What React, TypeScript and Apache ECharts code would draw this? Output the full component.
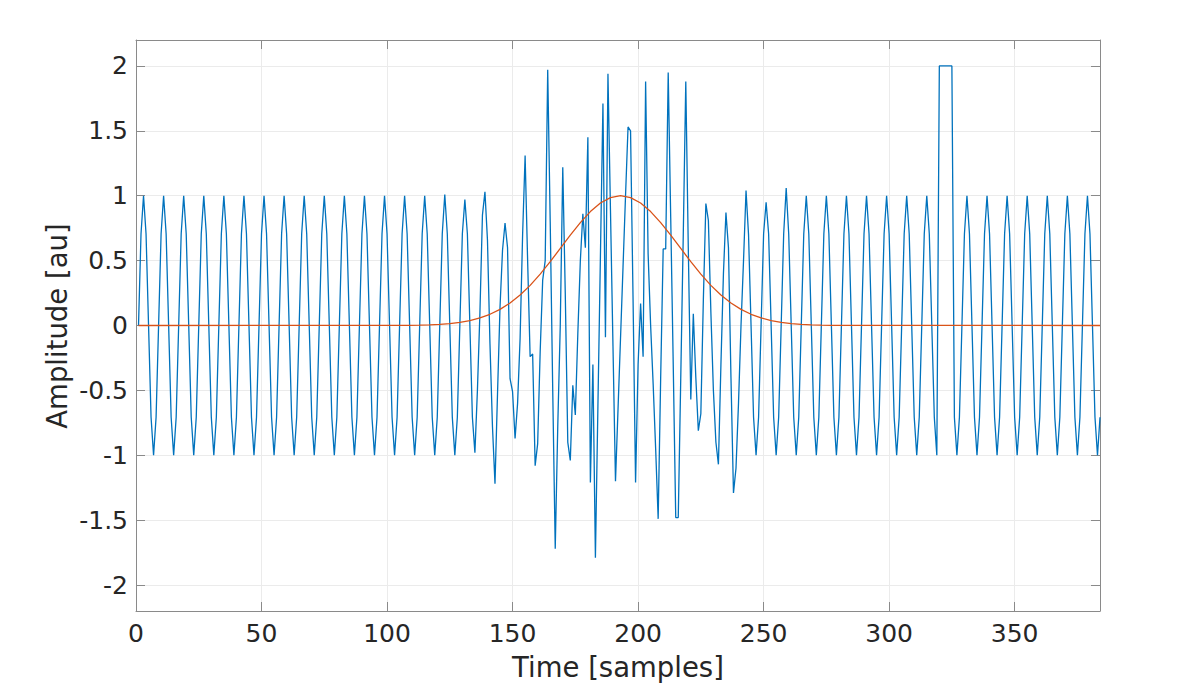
import React, { useEffect, useRef } from "react";
import * as echarts from "echarts";

// Sample index of the first value in `amplitude` (samples are 1..384)
const firstSample = 1;

// Blue signal, one row = 8 samples (one period of the carrier)
const amplitude: number[] = [
  0, 0.707, 1, 0.707, 0, -0.707, -1, -0.707,
  0, 0.707, 1, 0.707, 0, -0.707, -1, -0.707,
  0, 0.707, 1, 0.707, 0, -0.707, -1, -0.707,
  0, 0.707, 1, 0.707, 0, -0.707, -1, -0.707,
  0, 0.707, 1, 0.707, 0, -0.707, -1, -0.707,
  0, 0.707, 1, 0.707, 0, -0.707, -1, -0.707,
  0, 0.707, 1, 0.707, 0, -0.707, -1, -0.707,
  0, 0.707, 1, 0.707, 0, -0.707, -1, -0.707,
  0, 0.707, 1, 0.707, 0, -0.707, -1, -0.707,
  0, 0.707, 1, 0.707, 0, -0.707, -1, -0.707,
  0, 0.707, 1, 0.707, 0, -0.707, -1, -0.707,
  0, 0.707, 1, 0.707, 0, -0.707, -1, -0.707,
  0, 0.707, 1, 0.707, 0, -0.707, -1, -0.707,
  0, 0.707, 1, 0.707, 0, -0.707, -1, -0.707,
  0, 0.707, 1, 0.707, 0, -0.707, -1, -0.707,
  0, 0.707, 1.01, 0.707, 0, -0.707, -1, -0.707,
  0, 0.707, 0.97, 0.707, 0, -0.707, -0.98, -0.5,
  0.1, 0.85, 1.03, 0.66, -0.14, -0.78, -1.22, -0.53,
  0.14, 0.58, 0.79, 0.6, -0.41, -0.51, -0.87, -0.6,
  -0.1, 0.7, 1.31, 0.5, -0.24, -0.22, -1.08, -0.91,
  -0.2, 0.35, 0.5, 1.97, 0.8, -0.5, -1.72, -0.78,
  0, 1.22, 0.24, -0.9, -1.04, -0.46, -0.69, -0.06,
  0.5, 0.86, 0.6, 1.45, -1.21, -0.3, -1.79, -0.62,
  0.54, 1.71, -0.09, 1.94, 0.89, -0.16, -1.2, -0.65,
  -0.1, 0.45, 1.0, 1.53, 1.5, 0.2, -1.21, -0.3,
  0.17, -0.24, 1.88, 0.55, 0, -0.45, -0.95, -1.49,
  -0.4, 0.59, 0.59, 1.95, 0.83, -0.3, -1.48, -1.48,
  -0.4, 0.7, 1.88, 0.6, -0.57, 0.09, -0.4, -0.81,
  -0.68, 0.2, 0.94, 0.81, 0.1, -0.5, -0.9, -1.07,
  -0.3, 0.4, 0.87, 0.6, -0.4, -1.29, -1.1, -0.6,
  0, 0.5, 1.04, 0.7, 0, -0.707, -1, -0.707,
  0, 0.707, 0.95, 0.707, 0, -0.707, -1, -0.707,
  0, 0.707, 1.06, 0.707, 0, -0.707, -1, -0.707,
  0, 0.707, 1, 0.707, 0, -0.707, -1, -0.707,
  0, 0.707, 1, 0.707, 0, -0.707, -1, -0.707,
  0, 0.707, 1, 0.707, 0, -0.707, -1, -0.707,
  0, 0.707, 1, 0.707, 0, -0.707, -1, -0.707,
  0, 0.707, 1, 0.707, 0, -0.707, -1, -0.707,
  0, 0.707, 1, 0.707, 0, -0.707, -1, -0.707,
  0, 0.707, 1, 0.707, 0, -0.707, -1, 2,
  2, 2, 2, 2, 2, -0.707, -1, -0.707,
  0, 0.707, 1, 0.707, 0, -0.707, -1, -0.707,
  0, 0.707, 1, 0.707, 0, -0.707, -1, -0.707,
  0, 0.707, 1, 0.707, 0, -0.707, -1, -0.707,
  0, 0.707, 1, 0.707, 0, -0.707, -1, -0.707,
  0, 0.707, 1, 0.707, 0, -0.707, -1, -0.707,
  0, 0.707, 1, 0.707, 0, -0.707, -1, -0.707,
  0, 0.707, 1, 0.707, 0, -0.707, -1, -0.707,
];

// Red window curve: sample positions and values
const windowTime: number[] = [
  1, 109, 113, 117, 121, 125, 129, 133, 137, 141, 145, 149, 153, 157, 161, 165,
  169, 173, 177, 181, 185, 189, 193, 197, 201, 205, 209, 213, 217, 221, 225,
  229, 233, 237, 241, 245, 249, 253, 257, 261, 265, 269, 273, 277, 384,
];
const windowValue: number[] = [
  0, 0.0017, 0.003, 0.0054, 0.0092, 0.0152, 0.0245, 0.0384, 0.0585, 0.0865,
  0.1242, 0.1733, 0.2349, 0.3093, 0.3957, 0.4917, 0.5936, 0.6962, 0.7931,
  0.8778, 0.9437, 0.9856, 1, 0.9856, 0.9437, 0.8778, 0.7931, 0.6962, 0.5936,
  0.4917, 0.3957, 0.3093, 0.2349, 0.1733, 0.1242, 0.0865, 0.0585, 0.0384,
  0.0245, 0.0152, 0.0092, 0.0054, 0.003, 0.0017, 0,
];

const xTitle = "Time [samples]";
const yTitle = "Amplitude [au]";
const xRange = [0, 384];
const yRange = [-2.2, 2.2];
const xStep = 50;
const yStep = 0.5;

const FONT = '"DejaVu Sans", "Liberation Sans", sans-serif';
const TEXT = "#262626";
const AXIS = "#8a8a8a";
const GRID = "#ebebeb";

export default function App() {
  const ref = useRef<HTMLDivElement>(null);

  useEffect(() => {
    if (!ref.current) return;
    const chart = echarts.init(ref.current, undefined, { renderer: "svg" });

    const signal = amplitude.map((v, i) => [i + firstSample, v]);
    const windowData = windowTime.map((t, i) => [t, windowValue[i]]);

    const axisLine = { show: true, onZero: false, lineStyle: { color: AXIS, width: 1 } };
    const axisTick = { show: true, inside: true, length: 9, lineStyle: { color: AXIS, width: 1 } };

    const xFmt = (v: number) => (Math.abs(v % xStep) < 1e-9 ? String(v) : "");
    const yFmt = (v: number) => {
      const k = v / yStep;
      return Math.abs(k - Math.round(k)) < 1e-6 ? String(Number(v.toFixed(1))) : "";
    };

    const xBase = {
      type: "value" as const,
      min: xRange[0],
      max: xRange[1],
      interval: xStep,
      axisLine,
      axisTick,
    };
    const yBase = {
      type: "value" as const,
      min: yRange[0],
      max: yRange[1],
      splitNumber: 9,
      minInterval: yStep,
      maxInterval: yStep,
      axisLine,
      axisTick,
    };

    chart.setOption({
      animation: false,
      backgroundColor: "#ffffff",
      grid: { left: 136, top: 40, width: 964, height: 571, containLabel: false },
      xAxis: [
        {
          ...xBase,
          position: "bottom",
          splitLine: { show: true, lineStyle: { color: GRID, width: 1 } },
          axisLabel: {
            show: true,
            margin: 10,
            color: TEXT,
            fontFamily: FONT,
            fontSize: 25,
            formatter: xFmt,
          },
        },
        {
          ...xBase,
          position: "top",
          splitLine: { show: false },
          axisLabel: { show: false },
        },
      ],
      yAxis: [
        {
          ...yBase,
          position: "left",
          splitLine: { show: true, lineStyle: { color: GRID, width: 1 } },
          axisLabel: {
            show: true,
            margin: 8,
            color: TEXT,
            fontFamily: FONT,
            fontSize: 25,
            formatter: yFmt,
          },
        },
        {
          ...yBase,
          position: "right",
          splitLine: { show: false },
          axisLabel: { show: false },
        },
      ],
      series: [
        {
          type: "line",
          xAxisIndex: 0,
          yAxisIndex: 0,
          data: signal,
          showSymbol: false,
          symbol: "none",
          lineStyle: { color: "#0072BD", width: 1.3 },
          itemStyle: { color: "#0072BD" },
          z: 2,
        },
        {
          type: "line",
          xAxisIndex: 0,
          yAxisIndex: 0,
          data: windowData,
          showSymbol: false,
          symbol: "none",
          lineStyle: { color: "#D95319", width: 1.3 },
          itemStyle: { color: "#D95319" },
          z: 3,
        },
      ],
      graphic: [
        {
          type: "text",
          x: 618,
          y: 666.5,
          style: {
            text: xTitle,
            fill: TEXT,
            fontFamily: FONT,
            fontSize: 27.5,
            align: "center",
            verticalAlign: "middle",
          },
        },
        {
          type: "text",
          x: 56.5,
          y: 326,
          rotation: Math.PI / 2,
          style: {
            text: yTitle,
            fill: TEXT,
            fontFamily: FONT,
            fontSize: 27.5,
            align: "center",
            verticalAlign: "middle",
          },
        },
      ],
    });

    return () => chart.dispose();
  }, []);

  return (
    <div
      ref={ref}
      style={{ position: "absolute", left: 0, top: 0, width: 1196, height: 688, background: "#fff" }}
    />
  );
}
